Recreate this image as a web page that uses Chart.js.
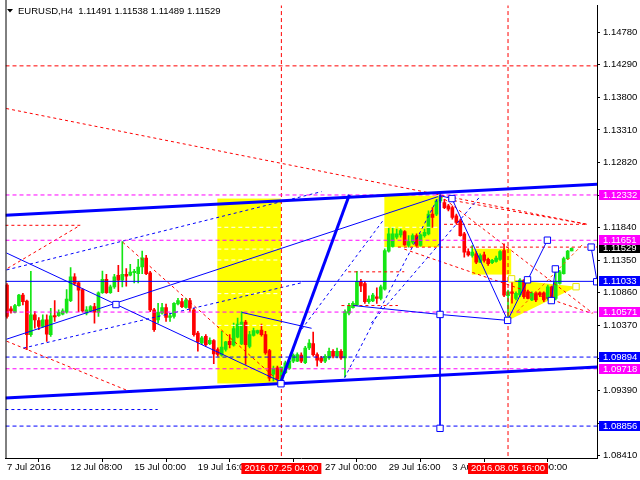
<!DOCTYPE html>
<html>
<head>
<meta charset="utf-8">
<script src="https://cdn.jsdelivr.net/npm/chart.js@4.4.1/dist/chart.umd.min.js"></script>
<style>html,body{margin:0;padding:0;background:#fff}</style>
</head>
<body>
<canvas id="chart" width="640" height="480"></canvas>
<script>
// H4 candles, one per bar index (0 = 7 Jul 16:00)
const candleOpen = [
  1.10976, 1.10618, 1.10568, 1.10668, 1.10827, 1.10737, 1.10230, 1.10528, 1.10444, 1.10354,
  1.10454, 1.10230, 1.10518, 1.10518, 1.10538, 1.10568, 1.10742, 1.11100, 1.11010, 1.10911,
  1.10553, 1.10588, 1.10653, 1.10568, 1.10861, 1.11065, 1.10861, 1.10951, 1.11125, 1.11050,
  1.11140, 1.11125, 1.11165, 1.11150, 1.11249, 1.11383, 1.11160, 1.10603, 1.10454, 1.10553,
  1.10638, 1.10489, 1.10504, 1.10692, 1.10727, 1.10639, 1.10743, 1.10604, 1.10256, 1.10107,
  1.10207, 1.10097, 1.10142, 1.10008, 1.09923, 1.10008, 1.10132, 1.10072, 1.10192, 1.10092,
  1.10420, 1.10053, 1.10221, 1.10256, 1.10301, 1.10231, 1.09990, 1.09635, 1.09734, 1.09551,
  1.09660, 1.09724, 1.09834, 1.09834, 1.09923, 1.09808, 1.10031, 1.10096, 1.09932, 1.09882,
  1.09832, 1.09882, 1.09981, 1.09907, 1.09981, 1.09882, 1.10553, 1.10637, 1.10677, 1.11035,
  1.11000, 1.10727, 1.10737, 1.10801, 1.10777, 1.10916, 1.11487, 1.11557, 1.11696, 1.11731,
  1.11781, 1.11572, 1.11622, 1.11721, 1.11572, 1.11721, 1.11746, 1.12044, 1.12044, 1.12243,
  1.12218, 1.12168, 1.12143, 1.12019, 1.11944, 1.11746, 1.11482, 1.11422, 1.11447, 1.11323,
  1.11432, 1.11363, 1.11313, 1.11333, 1.11363, 1.11497, 1.10816, 1.10877, 1.10777, 1.10827,
  1.11051, 1.10877, 1.10752, 1.10862, 1.10862, 1.10862, 1.10777, 1.10952, 1.10777, 1.11001,
  1.11150, 1.11374, 1.11491
];
const candleHigh = [
  1.11001, 1.10653, 1.10687, 1.10837, 1.10851, 1.10752, 1.11184, 1.10578, 1.10489, 1.10528,
  1.10528, 1.10628, 1.10742, 1.10603, 1.10618, 1.10911, 1.11239, 1.11150, 1.11025, 1.10926,
  1.10653, 1.10668, 1.10702, 1.10876, 1.11189, 1.11140, 1.10976, 1.11140, 1.11274, 1.11632,
  1.11224, 1.11289, 1.11214, 1.11363, 1.11488, 1.11423, 1.11184, 1.10628, 1.10702, 1.10702,
  1.10692, 1.10553, 1.10712, 1.10777, 1.10777, 1.10778, 1.10778, 1.10629, 1.10281, 1.10207,
  1.10231, 1.10182, 1.10157, 1.10033, 1.10281, 1.10132, 1.10231, 1.10405, 1.10480, 1.10579,
  1.10445, 1.10281, 1.10331, 1.10301, 1.10390, 1.10281, 1.10010, 1.09759, 1.09759, 1.09744,
  1.09834, 1.09858, 1.09943, 1.09958, 1.09958, 1.10056, 1.10156, 1.10270, 1.09957, 1.09907,
  1.09932, 1.10031, 1.10006, 1.10031, 1.10006, 1.10603, 1.10702, 1.10727, 1.11184, 1.11065,
  1.11035, 1.10816, 1.10851, 1.10936, 1.10975, 1.11522, 1.11830, 1.11845, 1.11820, 1.11820,
  1.11795, 1.11721, 1.11746, 1.11746, 1.11746, 1.11820, 1.12094, 1.12143, 1.12268, 1.12367,
  1.12267, 1.12193, 1.12168, 1.12044, 1.11969, 1.11770, 1.11522, 1.11572, 1.11482, 1.11447,
  1.11472, 1.11383, 1.11363, 1.11413, 1.11497, 1.11596, 1.10901, 1.11051, 1.10877, 1.11076,
  1.11061, 1.10902, 1.10877, 1.10877, 1.10877, 1.10877, 1.10977, 1.10962, 1.11200, 1.11200,
  1.11398, 1.11498, 1.11538
];
const candleLow = [
  1.10479, 1.10553, 1.10558, 1.10658, 1.10677, 1.10007, 1.10205, 1.10330, 1.10305, 1.10340,
  1.10131, 1.10205, 1.10429, 1.10504, 1.10528, 1.10553, 1.10727, 1.10976, 1.10578, 1.10568,
  1.10528, 1.10578, 1.10404, 1.10504, 1.10851, 1.10851, 1.10851, 1.10926, 1.10876, 1.10951,
  1.10961, 1.11115, 1.11010, 1.11010, 1.11150, 1.11135, 1.10578, 1.10280, 1.10404, 1.10538,
  1.10429, 1.10429, 1.10479, 1.10677, 1.10638, 1.10629, 1.10579, 1.10207, 1.09983, 1.10082,
  1.10057, 1.10082, 1.09794, 1.09908, 1.09908, 1.09983, 1.10033, 1.10057, 1.10182, 1.10082,
  1.09784, 1.10033, 1.10207, 1.10241, 1.10207, 1.09933, 1.09536, 1.09536, 1.09536, 1.09511,
  1.09645, 1.09709, 1.09809, 1.09824, 1.09809, 1.09793, 1.10006, 1.09907, 1.09758, 1.09808,
  1.09808, 1.09857, 1.09882, 1.09882, 1.09857, 1.09594, 1.10528, 1.10628, 1.10667, 1.10876,
  1.10702, 1.10702, 1.10727, 1.10702, 1.10752, 1.10901, 1.11472, 1.11547, 1.11671, 1.11696,
  1.11572, 1.11547, 1.11597, 1.11557, 1.11562, 1.11696, 1.11731, 1.11845, 1.12019, 1.12218,
  1.12128, 1.12093, 1.11969, 1.11895, 1.11711, 1.11398, 1.11413, 1.11398, 1.11298, 1.11313,
  1.11323, 1.11273, 1.11298, 1.11323, 1.11348, 1.10801, 1.10443, 1.10703, 1.10752, 1.10802,
  1.10777, 1.10767, 1.10742, 1.10727, 1.10802, 1.10727, 1.10752, 1.10767, 1.10752, 1.10991,
  1.11140, 1.11359, 1.11489
];
const candleClose = [
  1.10504, 1.10588, 1.10668, 1.10827, 1.10727, 1.10230, 1.10528, 1.10454, 1.10354, 1.10454,
  1.10240, 1.10513, 1.10499, 1.10568, 1.10588, 1.10767, 1.11100, 1.11001, 1.10901, 1.10588,
  1.10603, 1.10653, 1.10568, 1.10861, 1.11065, 1.10861, 1.10951, 1.11100, 1.11050, 1.11140,
  1.11110, 1.11174, 1.11184, 1.11249, 1.11388, 1.11150, 1.10603, 1.10305, 1.10568, 1.10638,
  1.10489, 1.10513, 1.10702, 1.10742, 1.10653, 1.10753, 1.10629, 1.10231, 1.10122, 1.10182,
  1.10082, 1.10147, 1.09943, 1.09933, 1.10043, 1.10122, 1.10082, 1.10321, 1.10390, 1.10420,
  1.10082, 1.10231, 1.10291, 1.10291, 1.10231, 1.09958, 1.09575, 1.09724, 1.09561, 1.09744,
  1.09809, 1.09834, 1.09923, 1.09933, 1.09834, 1.10031, 1.10106, 1.09932, 1.09847, 1.09832,
  1.09907, 1.09981, 1.09907, 1.09981, 1.09882, 1.10578, 1.10667, 1.10702, 1.11035, 1.10965,
  1.10727, 1.10767, 1.10826, 1.10777, 1.10950, 1.11497, 1.11746, 1.11746, 1.11746, 1.11795,
  1.11582, 1.11632, 1.11721, 1.11572, 1.11731, 1.11771, 1.12044, 1.11994, 1.12243, 1.12317,
  1.12143, 1.12118, 1.11994, 1.11920, 1.11721, 1.11472, 1.11432, 1.11472, 1.11323, 1.11422,
  1.11348, 1.11298, 1.11348, 1.11383, 1.11482, 1.10826, 1.10876, 1.10852, 1.10852, 1.11051,
  1.10802, 1.10777, 1.10852, 1.10752, 1.10827, 1.10752, 1.10952, 1.10777, 1.11026, 1.11175,
  1.11374, 1.11488, 1.11529
];

const xTickIdx = [0, 16, 32, 48, 64, 80, 96, 112, 128];
const xTickLabels = ['7 Jul 2016', '12 Jul 08:00', '15 Jul 00:00', '19 Jul 16:00', '22 Jul 08:00',
  '27 Jul 00:00', '29 Jul 16:00', '3 Aug 08:00', '8 Aug 00:00'];
const yTicks = [1.08410, 1.08900, 1.09390, 1.09880, 1.10370, 1.10860, 1.11350,
  1.11840, 1.12330, 1.12820, 1.13310, 1.13800, 1.14290, 1.14780];

const titleText = 'EURUSD,H4  1.11491 1.11538 1.11489 1.11529';
const lastPrice = 1.11529;
const levelsMagenta = [1.12332, 1.11651, 1.10571, 1.09718];
const levelsBlueDash = [1.09894, 1.08856];
const levelBlueSolid = 1.11033;
const levelRed = 1.14274;
const timeMarks = [69, 126];
const timeMarkLabels = ['2016.07.25 04:00', '2016.08.05 16:00'];

// drawn objects, as [bar index, price]
const channelTop = [[-0.4, 1.12029], [148.4, 1.12494]];
const channelBottom = [[-0.4, 1.09277], [148.4, 1.09746]];
const impulseUp = [[68.9, 1.09522], [86.1, 1.12337]];
const blueLines = [
  [[-0.1, 1.11459], [68.9, 1.09522]],
  [[-0.1, 1.10163], [108.4, 1.12308]],
  [[59.1, 1.10565], [76.6, 1.10327]],
  [[87.1, 1.10669], [108.9, 1.10535], [125.9, 1.10446]],
  [[108.9, 1.12337], [108.9, 1.08822]],
  [[108.9, 1.12322], [111.9, 1.12278], [125.9, 1.10446], [135.9, 1.11652]],
  [[136.9, 1.10744], [137.9, 1.11220]],
  [[146.9, 1.11548], [148.4, 1.11027]]
];
const blueDotted = [
  [[-0.1, 1.11205], [79.1, 1.12382]],
  [[4.1, 1.10029], [74.1, 1.11012]],
  [[84.9, 1.09582], [108.4, 1.12293]],
  [[74.1, 1.10312], [94.6, 1.11950]],
  [[91.6, 1.10406], [119.1, 1.12318]],
  [[-0.4, 1.09105], [37.9, 1.09105]]
];
const redDashed = [
  [[-0.2, 1.13633], [145.9, 1.11891]],
  [[110.9, 1.12263], [145.9, 1.11891]],
  [[-0.4, 1.11876], [18.4, 1.11876], [-0.1, 1.11220]],
  [[-0.1, 1.10133], [31.6, 1.09359]],
  [[29.1, 1.11622], [69.1, 1.09493]],
  [[108.9, 1.12322], [147.4, 1.10550]],
  [[99.9, 1.11518], [147.1, 1.10550]],
  [[109.9, 1.11891], [145.9, 1.11891]],
  [[98.3, 1.11548], [148.4, 1.11548]],
  [[85.8, 1.11176], [99.9, 1.11176]],
  [[84.1, 1.10669], [98.3, 1.10669]]
];
const orangeDashed = [[128.3, 1.10579], [144.9, 1.11597]];
const pivots = [
  [27.4, 1.10684], [68.9, 1.09493], [108.9, 1.10535], [108.9, 1.08822], [111.9, 1.12278],
  [125.9, 1.10446], [130.9, 1.11056], [135.9, 1.11652], [136.9, 1.10744], [137.9, 1.11220],
  [146.9, 1.11548], [148.3, 1.11027]
];
const pivotsYellow = [[126.9, 1.11071], [143.1, 1.10952]];
const boxes = [
  [52.9, 68.9, 1.12278, 1.09497],
  [94.9, 108.6, 1.12322, 1.11548],
  [116.9, 126.8, 1.11523, 1.11135]
];
const triangle = [[126.0, 1.10446], [127.0, 1.11056], [143.3, 1.10952]];
const fiboA = [1.11846, 1.11518, 1.11354, 1.10848, 1.10371];
const fiboB = [1.11846];

const X_MIN = -0.375, X_MAX = 148.375;
const FONT = '"Liberation Sans", Arial, sans-serif';
const FONT_SIZE = 9.5;
const GREEN = '#14e614', RED = '#ff0000', BLUE = '#0000ff', MAGENTA = '#ff00ff';
const tagLevels = [...levelsMagenta, levelBlueSolid, ...levelsBlueDash, lastPrice];

const pts = arr => arr.map(p => ({ x: p[0], y: p[1] }));
function seg(points, color, width, dash) {
  return {
    type: 'line', data: pts(points), borderColor: color, borderWidth: width,
    borderDash: dash || [], pointRadius: 0, pointHoverRadius: 0, fill: false, tension: 0
  };
}

const datasets = [];
datasets.push({
  type: 'line', data: pts(pivots), showLine: false, pointStyle: 'rect', pointRadius: 4.5,
  pointBorderColor: BLUE, pointBackgroundColor: '#fff', pointBorderWidth: 1
});
datasets.push({
  type: 'line', data: pts(pivotsYellow), showLine: false, pointStyle: 'rect', pointRadius: 4.5,
  pointBorderColor: '#e6e600', pointBackgroundColor: '#fff', pointBorderWidth: 1
});
datasets.push(seg(channelTop, BLUE, 3));
datasets.push(seg(channelBottom, BLUE, 3));
datasets.push(seg(impulseUp, BLUE, 3));
blueLines.forEach(l => datasets.push(seg(l, BLUE, 1)));
datasets.push(seg([[X_MIN, levelBlueSolid], [X_MAX, levelBlueSolid]], BLUE, 1));
levelsBlueDash.forEach(v => datasets.push(seg([[X_MIN, v], [X_MAX, v]], BLUE, 1, [4, 3])));
levelsMagenta.forEach(v => datasets.push(seg([[X_MIN, v], [X_MAX, v]], MAGENTA, 1, [4, 3])));
datasets.push(seg([[X_MIN, levelRed], [X_MAX, levelRed]], RED, 1, [4, 3]));
timeMarks.forEach(t => datasets.push(seg([[t, 1.0830], [t, 1.1530]], RED, 1, [4, 3])));
blueDotted.forEach(l => datasets.push(seg(l, BLUE, 1, [3, 3])));
redDashed.forEach(l => datasets.push(seg(l, RED, 1, [3, 3])));
datasets.push(seg(orangeDashed, '#ff5a00', 1, [3, 3]));
fiboA.forEach(v => datasets.push(seg([[boxes[0][0], v], [boxes[0][1], v]], '#fff', 1, [4, 3])));
fiboB.forEach(v => datasets.push(seg([[boxes[1][0], v], [boxes[1][1], v]], '#fff', 1, [4, 3])));

const candleColors = candleOpen.map((o, i) => candleClose[i] >= o ? GREEN : RED);
datasets.push({
  type: 'bar', grouped: false, barThickness: 3, minBarLength: 1, borderWidth: 0,
  data: candleOpen.map((o, i) => ({ x: i, y: [o, candleClose[i]] })),
  backgroundColor: candleColors
});
datasets.push({
  type: 'bar', grouped: false, barThickness: 1, borderWidth: 0,
  data: candleLow.map((l, i) => ({ x: i, y: [l, candleHigh[i]] })),
  backgroundColor: candleColors
});

const overlay = {
  id: 'overlay',
  beforeDatasetsDraw(chart) {
    const { ctx, scales: { x, y } } = chart;
    ctx.save();
    ctx.fillStyle = '#ffff00';
    boxes.forEach(b => {
      const x0 = x.getPixelForValue(b[0]), x1 = x.getPixelForValue(b[1]);
      const y0 = y.getPixelForValue(b[2]), y1 = y.getPixelForValue(b[3]);
      ctx.fillRect(x0, y0, x1 - x0, y1 - y0);
    });
    ctx.beginPath();
    triangle.forEach((p, k) => {
      const px = x.getPixelForValue(p[0]), py = y.getPixelForValue(p[1]);
      if (k === 0) ctx.moveTo(px, py); else ctx.lineTo(px, py);
    });
    ctx.closePath();
    ctx.fill();
    ctx.restore();
  },
  afterDraw(chart) {
    const { ctx, scales: { x, y }, chartArea: a } = chart;
    ctx.save();
    ctx.strokeStyle = '#000';
    ctx.lineWidth = 1;
    ctx.beginPath();
    ctx.moveTo(a.left + 0.5, 0);
    ctx.lineTo(a.left + 0.5, a.bottom);
    ctx.stroke();

    ctx.font = FONT_SIZE + 'px ' + FONT;
    ctx.textBaseline = 'middle';
    ctx.fillStyle = '#000';
    ctx.beginPath();
    ctx.moveTo(7, 9); ctx.lineTo(13, 9); ctx.lineTo(10, 12.5); ctx.closePath();
    ctx.fill();
    ctx.fillText(titleText, 18, 11);

    const tag = (v, color) => {
      const py = Math.round(y.getPixelForValue(v));
      ctx.fillStyle = color;
      ctx.fillRect(a.right + 2, py - 5, 640 - a.right - 2, 10);
      ctx.fillStyle = '#fff';
      ctx.textAlign = 'left';
      ctx.fillText(v.toFixed(5), a.right + 6, py + 0.5);
    };
    tag(lastPrice, '#000');
    levelsMagenta.forEach(v => tag(v, MAGENTA));
    tag(levelBlueSolid, BLUE);
    levelsBlueDash.forEach(v => tag(v, BLUE));

    timeMarks.forEach((t, k) => {
      const px = x.getPixelForValue(t);
      ctx.fillStyle = RED;
      ctx.fillRect(px - 40, a.bottom + 5, 80, 11);
      ctx.fillStyle = '#fff';
      ctx.textAlign = 'center';
      ctx.fillText(timeMarkLabels[k], px, a.bottom + 10.5);
    });
    ctx.restore();
  }
};

new Chart(document.getElementById('chart'), {
  type: 'line',
  data: { datasets },
  options: {
    responsive: false,
    animation: false,
    devicePixelRatio: 1,
    events: [],
    layout: { padding: { left: 2, top: 1, right: 0, bottom: 0 } },
    plugins: { legend: { display: false }, tooltip: { enabled: false } },
    scales: {
      x: {
        type: 'linear', min: X_MIN, max: X_MAX, offset: false, bounds: 'data',
        afterBuildTicks: s => { s.ticks = xTickIdx.map(v => ({ value: v })); },
        afterFit: s => { s.height = 22; s.paddingLeft = 0; s.paddingRight = 0; },
        ticks: {
          callback: (v, k) => xTickLabels[k], align: 'start', autoSkip: false,
          maxRotation: 0, minRotation: 0, padding: 0, color: '#000',
          font: { family: FONT, size: FONT_SIZE }
        },
        grid: { drawOnChartArea: false, tickLength: 4, color: '#000' },
        border: { color: '#000' }
      },
      y: {
        position: 'right', min: 1.08376, max: 1.15182, beginAtZero: false, bounds: 'data',
        afterBuildTicks: s => { s.ticks = yTicks.map(v => ({ value: v })); },
        afterFit: s => { s.width = 43; s.paddingTop = 0; s.paddingBottom = 0; },
        ticks: {
          // labels that would sit under a price tag are left out
          callback: v => tagLevels.some(t => Math.abs(t - v) < 0.001) ? '' : v.toFixed(5),
          padding: 3, color: '#000',
          font: { family: FONT, size: FONT_SIZE }
        },
        grid: { drawOnChartArea: false, tickLength: 3, color: '#000' },
        border: { color: '#000' }
      }
    }
  },
  plugins: [overlay]
});
</script>
</body>
</html>
